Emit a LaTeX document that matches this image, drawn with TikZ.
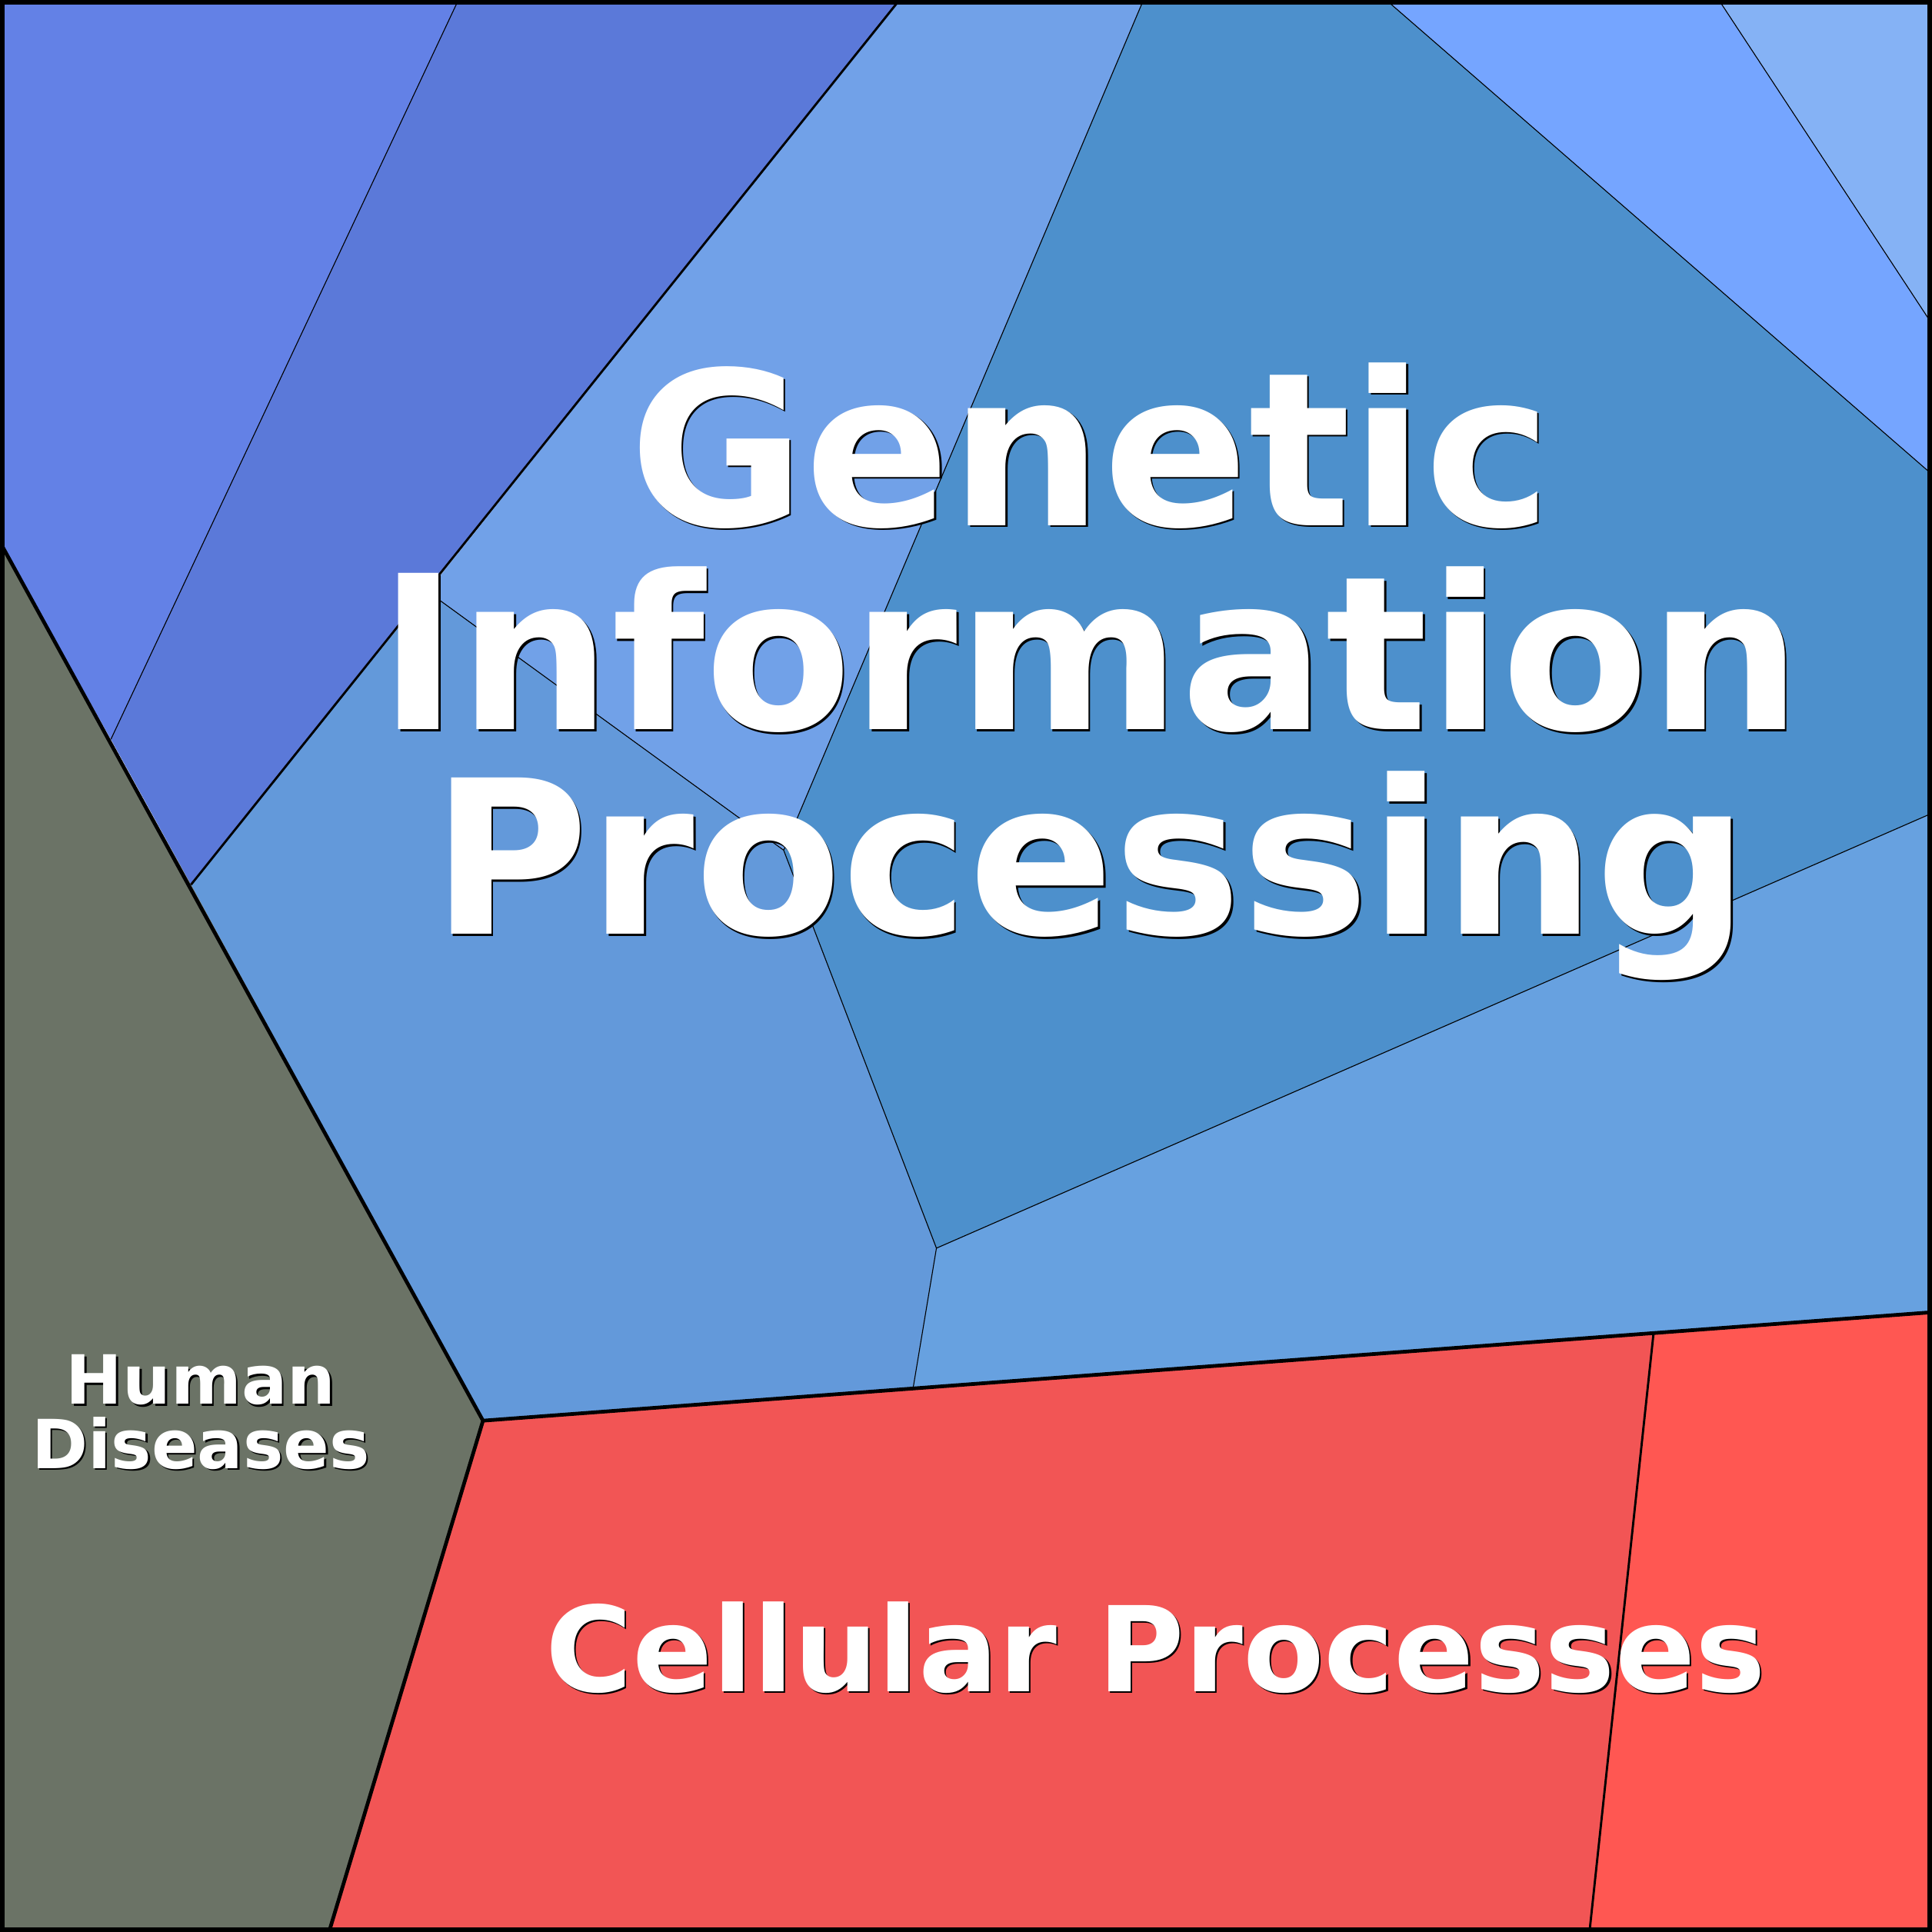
\documentclass[tikz,border=0pt]{standalone}
\usepackage{fontspec}
\setmainfont{DejaVu Sans}
\begin{document}
\begin{tikzpicture}[x=1pt,y=-1pt,
  thin line/.style={line width=0.7pt,draw=black},
  thick line/.style={line width=3pt,draw=black,line join=round},
  lab/.style={font=\bfseries, text=white, align=center, inner sep=0pt}]
\useasboundingbox (0,0) rectangle (1568,1568);
\definecolor{cA}{HTML}{6381E6}
\definecolor{cB}{HTML}{5B79D9}
\definecolor{cC}{HTML}{71A1E8}
\definecolor{cD}{HTML}{6399DA}
\definecolor{cE}{HTML}{4D90CC}
\definecolor{cF}{HTML}{75A5FF}
\definecolor{cG}{HTML}{85B2F5}
\definecolor{cH}{HTML}{67A1E0}
\definecolor{cI}{HTML}{6B7366}
\definecolor{cJ}{HTML}{F25555}
\definecolor{cK}{HTML}{FF5752}
% regions
\fill[cA] (0,0) -- (372,0) -- (90,600) -- (0,440) -- cycle;
\fill[cB] (372,0) -- (730,0) -- (155,718) -- (90,600) -- cycle;
\fill[cC] (730,0) -- (928,0) -- (636,690) -- (347,480) -- cycle;
\fill[cD] (347,480) -- (636,690) -- (760,1013) -- (741,1127) -- (392,1153) -- (155,718) -- cycle;
\fill[cE] (928,0) -- (1125,0) -- (1568,385) -- (1568,660) -- (760,1013) -- (636,690) -- cycle;
\fill[cF] (1125,0) -- (1395,0) -- (1568,263) -- (1568,385) -- cycle;
\fill[cG] (1395,0) -- (1568,0) -- (1568,263) -- cycle;
\fill[cH] (760,1013) -- (1568,660) -- (1568,1065) -- (741,1127) -- cycle;
\fill[cI] (0,440) -- (155,718) -- (392,1153) -- (267,1568) -- (0,1568) -- cycle;
\fill[cJ] (392,1153) -- (1342,1082) -- (1290,1568) -- (267,1568) -- cycle;
\fill[cK] (1342,1082) -- (1568,1065) -- (1568,1568) -- (1290,1568) -- cycle;
% thin boundaries
\draw[thin line] (372,0) -- (90,600);
\draw[thin line] (928,0) -- (636,690) -- (760,1013) -- (741,1127);
\draw[thin line] (347,480) -- (636,690);
\draw[thin line] (760,1013) -- (1568,660);
\draw[thin line] (1125,0) -- (1568,385);
\draw[thin line] (1395,0) -- (1568,263);
\draw[line width=1.8pt] (1342,1082) -- (1290,1568);
\draw[line width=1.8pt] (730,0) -- (155,718);
% thick boundaries
\draw[thick line] (0,440) -- (392,1153) -- (267,1568);
\draw[thick line] (392,1153) -- (1568,1065);
% frame
\draw[line width=7pt] (0,0) rectangle (1568,1568);
% labels
\foreach \dx/\col in {1.5/black,0/white}{
\node[lab,text=\col,font=\fontsize{174}{166}\selectfont\bfseries] (gip\dx) at (885+\dx,545+\dx) {Genetic\\Information\\Processing};
\node[lab,text=\col,font=\fontsize{96}{110}\selectfont\bfseries] (cp\dx) at (938+\dx,1337+\dx) {Cellular Processes};
\node[lab,text=\col,font=\fontsize{55}{52}\selectfont\bfseries] (hd\dx) at (163+\dx,1146+\dx) {Human\\Diseases};
}
\end{tikzpicture}
\end{document}
